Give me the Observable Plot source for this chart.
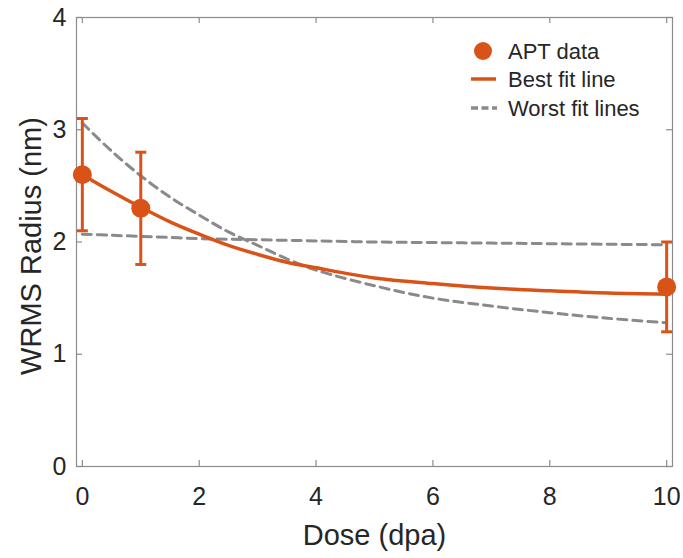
<!DOCTYPE html>
<html>
<head>
<meta charset="utf-8">
<script src="https://cdn.jsdelivr.net/npm/d3@7"></script>
<script src="https://cdn.jsdelivr.net/npm/@observablehq/plot@0.6"></script>
<style>
  html, body { margin: 0; padding: 0; background: #fff; }
  #wrap { position: relative; width: 683px; height: 558px; font-family: "Liberation Sans", Arial, sans-serif; }
  #legend { position: absolute; left: 0; top: 0; pointer-events: none; }
</style>
</head>
<body>
<div id="wrap"></div>
<script>
// ---- data ----
const dose = [0, 1, 10];
const radius = [2.6, 2.3, 1.6];
const errLow = [2.1, 1.8, 1.2];
const errHigh = [3.1, 2.8, 2.0];

const fitDose = [0, 0.5, 1, 1.5, 2, 2.5, 3, 3.5, 4, 5, 6, 7, 8, 9, 10];
const bestFit = [2.60, 2.45, 2.31, 2.18, 2.07, 1.97, 1.89, 1.82, 1.77, 1.68, 1.63, 1.59, 1.565, 1.545, 1.535];
const worstFitSteep = [3.06, 2.81, 2.59, 2.40, 2.24, 2.09, 1.97, 1.85, 1.75, 1.61, 1.50, 1.43, 1.37, 1.32, 1.28];
const worstFitFlat = [2.07, 2.06, 2.05, 2.04, 2.03, 2.025, 2.02, 2.015, 2.01, 2.00, 1.995, 1.99, 1.985, 1.98, 1.975];

const xTicks = [0, 2, 4, 6, 8, 10];
const yTicks = [0, 1, 2, 3, 4];
const legendLabels = ["APT data", "Best fit line", "Worst fit lines"];

const xLabel = "Dose (dpa)";
const yLabel = "WRMS Radius (nm)";

// ---- styling ----
const RED = "#D95319";
const GRAY = "#8a8a8a";
const AXIS = "#8c8c8c";
const TEXT = "#262626";
const FONT = "'Liberation Sans', Arial, sans-serif";

const W = 683, H = 558;
const mL = 76, mR = 11, mT = 17, mB = 92;
const innerW = W - mL - mR, innerH = H - mT - mB;
const tickLen = 6;

const points = dose.map((d, i) => ({dose: d, r: radius[i], lo: errLow[i], hi: errHigh[i]}));
const fits = fitDose.map((d, i) => ({dose: d, best: bestFit[i], steep: worstFitSteep[i], flat: worstFitFlat[i]}));

const capSymbol = {
  draw(ctx, size) {
    const r = Math.sqrt(size / Math.PI);
    ctx.moveTo(-r, 0);
    ctx.lineTo(r, 0);
  }
};

const chart = Plot.plot({
  width: W,
  height: H,
  marginLeft: mL,
  marginRight: mR,
  marginTop: mT,
  marginBottom: mB,
  style: {fontFamily: FONT, background: "white", color: TEXT},
  x: {domain: [-0.1, 10.1]},
  y: {domain: [0, 4]},
  marks: [
    Plot.frame({stroke: AXIS, strokeWidth: 1.2}),
    // inward ticks, all four sides
    Plot.tickX(xTicks, {x: d => d, stroke: AXIS, strokeWidth: 1.2, insetTop: innerH - tickLen}),
    Plot.tickX(xTicks, {x: d => d, stroke: AXIS, strokeWidth: 1.2, insetBottom: innerH - tickLen}),
    Plot.tickY(yTicks, {y: d => d, stroke: AXIS, strokeWidth: 1.2, insetRight: innerW - tickLen}),
    Plot.tickY(yTicks, {y: d => d, stroke: AXIS, strokeWidth: 1.2, insetLeft: innerW - tickLen}),
    Plot.axisX({ticks: xTicks, tickSize: 0, tickPadding: 21, fontSize: 25, label: null, tickFormat: d => String(d), fill: TEXT}),
    Plot.axisY({ticks: yTicks, tickSize: 0, tickPadding: 10, fontSize: 25, label: null, tickFormat: d => String(d), fill: TEXT}),
    Plot.text([xLabel], {text: d => d, frameAnchor: "bottom", textAnchor: "middle", lineAnchor: "top", dy: 58, fontSize: 29, fill: TEXT}),
    Plot.text([yLabel], {text: d => d, frameAnchor: "left", textAnchor: "middle", rotate: -90, lineAnchor: "middle", dx: -45, dy: 4, fontSize: 29, fill: TEXT}),
    // worst fit lines
    Plot.line(fits, {x: "dose", y: "steep", stroke: GRAY, strokeWidth: 3, strokeDasharray: "9,6", curve: "catmull-rom"}),
    Plot.line(fits, {x: "dose", y: "flat", stroke: GRAY, strokeWidth: 3, strokeDasharray: "9,6", curve: "catmull-rom"}),
    // best fit
    Plot.line(fits, {x: "dose", y: "best", stroke: RED, strokeWidth: 3.5, curve: "catmull-rom"}),
    // error bars
    Plot.ruleX(points, {x: "dose", y1: "lo", y2: "hi", stroke: RED, strokeWidth: 3}),
    Plot.dot(points, {x: "dose", y: "lo", symbol: capSymbol, r: 5.5, fill: "none", stroke: RED, strokeWidth: 3}),
    Plot.dot(points, {x: "dose", y: "hi", symbol: capSymbol, r: 5.5, fill: "none", stroke: RED, strokeWidth: 3}),
    // data points
    Plot.dot(points, {x: "dose", y: "r", r: 9.5, fill: RED, stroke: "none"})
  ]
});

const wrap = document.getElementById("wrap");
wrap.appendChild(chart);

// ---- legend (inside plot, top right, no box) ----
const lg = d3.select(wrap).append("svg")
  .attr("id", "legend")
  .attr("width", W).attr("height", H);
const rowY = [51, 79, 108];
const swX0 = 471, swX1 = 496, textX = 508;
legendLabels.forEach((lab, i) => {
  const g = lg.append("g");
  if (i === 0) {
    g.append("circle").attr("cx", (swX0 + swX1) / 2 - 0.5).attr("cy", rowY[i]).attr("r", 9).attr("fill", RED);
  } else if (i === 1) {
    g.append("line").attr("x1", swX0).attr("x2", swX1).attr("y1", rowY[i]).attr("y2", rowY[i])
      .attr("stroke", RED).attr("stroke-width", 3.5);
  } else {
    g.append("line").attr("x1", swX0).attr("x2", swX1 + 1).attr("y1", rowY[i]).attr("y2", rowY[i])
      .attr("stroke", GRAY).attr("stroke-width", 3.5).attr("stroke-dasharray", "7,3.5");
  }
  g.append("text").attr("x", textX).attr("y", rowY[i]).attr("dy", "0.35em")
    .attr("font-family", FONT).attr("font-size", 22).attr("fill", TEXT).text(lab);
});
</script>
</body>
</html>
